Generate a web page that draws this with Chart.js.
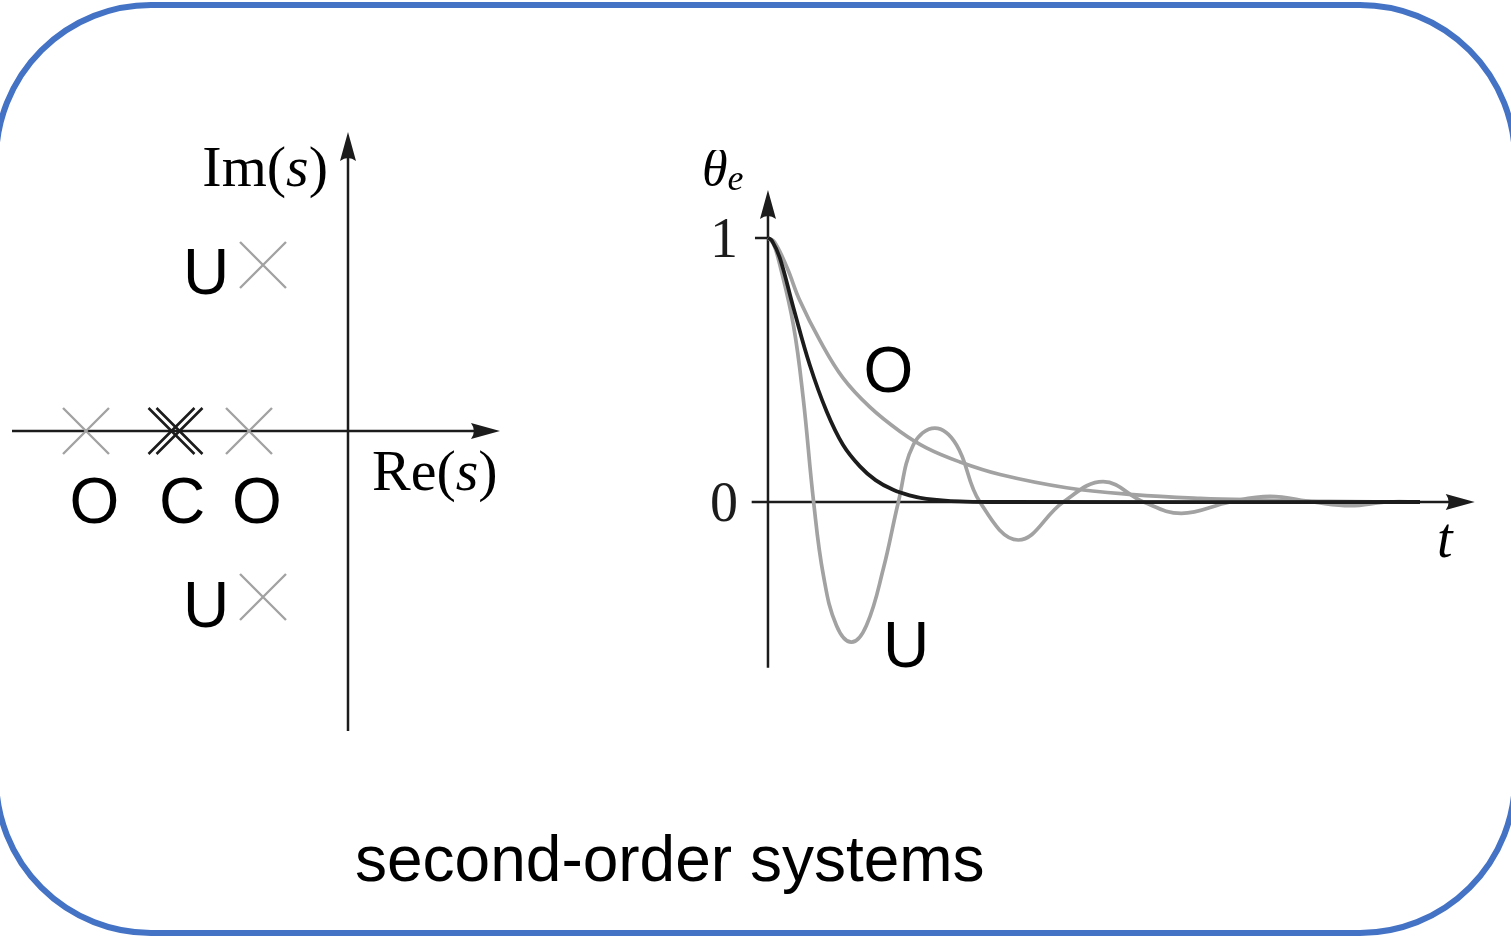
<!DOCTYPE html>
<html>
<head>
<meta charset="utf-8">
<title>second-order systems</title>
<script src="https://cdn.jsdelivr.net/npm/chart.js@4.4.1/dist/chart.umd.min.js"></script>
<style>
    html, body { margin: 0; padding: 0; background: #fff; }
    body { width: 1511px; height: 936px; position: relative; overflow: hidden; }
    .frame {
        position: absolute; left: -7px; top: 2px;
        width: 1525px; height: 934px;
        box-sizing: border-box;
        border: 6px solid #4472c4;
        border-radius: 158px;
    }
    #poleChart { position: absolute; left: 0; top: 100px; }
    #stepChart { position: absolute; left: 690px; top: 150px; }
    .caption {
        position: absolute; left: 355px; top: 828px;
        font: 64px "Liberation Sans", Arial, sans-serif;
        line-height: 63px; white-space: nowrap; color: #000;
    }
</style>
</head>
<body>
<div class="frame"></div>
<canvas id="poleChart" width="520" height="660"></canvas>
<canvas id="stepChart" width="821" height="550"></canvas>
<div class="caption">second-order systems</div>

<script>
// poles in the s-plane
const polesRe = [-2.62, -0.99, -0.85, -0.85];
const polesIm = [0, 0, 1.66, -1.66];
const polesLabel = ['O', 'O', 'U', 'U'];
const doublePoleRe = [-1.765, -1.685];
const doublePoleIm = [0, 0];

// error response theta_e(t) of each case
const criticalT = [0, 0.06, 0.18, 0.39, 0.64, 0.9, 1.15, 1.41, 1.65, 1.92, 2.17, 2.43, 2.94, 3.5, 10];
const criticalTheta = [1, 0.99, 0.926, 0.736, 0.52, 0.343, 0.217, 0.135, 0.083, 0.046, 0.025, 0.012, 0.002, 0, 0];

const overT = [0, 0.1, 0.29, 0.49, 0.8, 1.15, 1.56, 2.02, 2.43, 2.94, 3.56, 4.58, 5.6, 6.63, 7.65, 8.6, 10];
const overTheta = [1, 0.985, 0.889, 0.762, 0.61, 0.47, 0.36, 0.268, 0.205, 0.152, 0.104, 0.054, 0.028, 0.014, 0.007, 0.002, 0];

const underT = [0, 0.08, 0.18, 0.39, 0.54, 0.7, 0.85, 1.05, 1.28, 1.51, 1.77, 2.0, 2.23, 2.56, 2.89, 3.25,
    3.84, 4.53, 5.14, 5.76, 6.34, 7.09, 7.7, 8.36, 8.93, 9.5, 10];
const underTheta = [1, 0.98, 0.9, 0.67, 0.394, 0, -0.278, -0.468, -0.531, -0.468, -0.252, 0, 0.217, 0.28, 0.217, 0,
    -0.144, 0, 0.077, 0, -0.043, 0, 0.021, 0, -0.014, 0, 0];

const yTickValues = [0, 1];
const yTickLabels = ['0', '1'];

const SERIF = '"Liberation Serif", "Times New Roman", serif';
const SANS = '"Liberation Sans", Arial, sans-serif';
const INK = '#1c1c1c';
const GREY = '#a2a2a2';

function toPoints(xs, ys) {
    return xs.map((x, i) => ({ x: x, y: ys[i] }));
}

// draw a row of text pieces (mixed roman / italic) starting at x
function drawRuns(ctx, runs, x, y, align) {
    let total = 0;
    runs.forEach(r => { ctx.font = r.font; total += ctx.measureText(r.text).width; });
    let cx = align === 'right' ? x - total : (align === 'center' ? x - total / 2 : x);
    ctx.textAlign = 'left';
    ctx.textBaseline = 'alphabetic';
    runs.forEach(r => {
        ctx.font = r.font;
        ctx.fillText(r.text, cx, y + (r.dy || 0));
        cx += ctx.measureText(r.text).width;
    });
}

function arrowHead(ctx, tipX, tipY, dir, len, half) {
    ctx.beginPath();
    if (dir === 'right') {
        ctx.moveTo(tipX, tipY);
        ctx.lineTo(tipX - len, tipY - half);
        ctx.quadraticCurveTo(tipX - len * 0.8, tipY, tipX - len, tipY + half);
    } else {
        ctx.moveTo(tipX, tipY);
        ctx.lineTo(tipX - half, tipY + len);
        ctx.quadraticCurveTo(tipX, tipY + len * 0.8, tipX + half, tipY + len);
    }
    ctx.closePath();
    ctx.fill();
}

// axes with arrow heads, drawn under the datasets
const arrowAxes = {
    id: 'arrowAxes',
    beforeDatasetsDraw(chart, args, opts) {
        const { ctx, scales: { x, y } } = chart;
        const x0 = x.getPixelForValue(0);
        const y0 = y.getPixelForValue(0);
        const xa = x.getPixelForValue(opts.xFrom);
        const xb = x.getPixelForValue(opts.xTo);
        const ya = y.getPixelForValue(opts.yFrom);
        const yb = y.getPixelForValue(opts.yTo);
        ctx.save();
        ctx.strokeStyle = INK;
        ctx.fillStyle = INK;
        ctx.lineWidth = 2.5;
        ctx.beginPath();
        ctx.moveTo(xa, y0); ctx.lineTo(xb - 20, y0);
        ctx.moveTo(x0, ya); ctx.lineTo(x0, yb + 20);
        (opts.tickValues || []).forEach(v => {
            if (v === 0) return;
            const py = y.getPixelForValue(v);
            ctx.moveTo(x0 - 13, py); ctx.lineTo(x0, py);
        });
        ctx.stroke();
        arrowHead(ctx, xb, y0, 'right', 29, 8);
        arrowHead(ctx, x0, yb, 'up', 29, 8);

        // tick labels
        ctx.font = '56px ' + SERIF;
        ctx.textAlign = 'right';
        ctx.textBaseline = 'alphabetic';
        (opts.tickValues || []).forEach((v, i) => {
            ctx.fillText(opts.tickLabels[i], x0 - 30, y.getPixelForValue(v) + 19);
        });
        ctx.restore();
    },
    afterDatasetsDraw(chart, args, opts) {
        const { ctx, scales: { x, y } } = chart;
        ctx.save();
        ctx.fillStyle = '#000';
        (opts.labels || []).forEach(l => {
            drawRuns(ctx, l.runs, x.getPixelForValue(l.x), y.getPixelForValue(l.y), l.align);
        });
        ctx.restore();
    }
};

const letter = t => [{ text: t, font: '64px ' + SANS }];
const mathLabel = (a, b, c) => [
    { text: a, font: '58px ' + SERIF },
    { text: b, font: 'italic 58px ' + SERIF },
    { text: c, font: '58px ' + SERIF }
];

const hiddenScale = (min, max) => ({ type: 'linear', display: false, min: min, max: max });

// s-plane
new Chart(document.getElementById('poleChart'), {
    type: 'scatter',
    data: {
        datasets: [{
            data: toPoints(doublePoleRe, doublePoleIm),
            pointStyle: 'crossRot',
            pointRadius: 32.5,
            pointBorderWidth: 2.6,
            pointBorderColor: INK
        }, {
            data: toPoints(polesRe, polesIm),
            pointStyle: 'crossRot',
            pointRadius: 32.5,
            pointBorderWidth: 2.4,
            pointBorderColor: GREY
        }]
    },
    options: {
        responsive: false,
        animation: false,
        events: [],
        layout: { padding: 0, autoPadding: false },
        scales: {
            x: hiddenScale(-3.48, 1.72),
            y: hiddenScale(-3.29, 3.31)
        },
        plugins: {
            legend: { display: false },
            tooltip: { enabled: false },
            arrowAxes: {
                xFrom: -3.36, xTo: 1.52, yFrom: -3.0, yTo: 2.99,
                labels: [
                    { runs: letter(polesLabel[2]), x: -1.42, y: 1.37, align: 'center' },
                    { runs: letter(polesLabel[3]), x: -1.42, y: -1.96, align: 'center' },
                    { runs: letter(polesLabel[0]), x: -2.535, y: -0.92, align: 'center' },
                    { runs: letter('C'), x: -1.66, y: -0.92, align: 'center' },
                    { runs: letter(polesLabel[1]), x: -0.91, y: -0.92, align: 'center' },
                    { runs: mathLabel('Im(', 's', ')'), x: -0.2, y: 2.45, align: 'right' },
                    { runs: mathLabel('Re(', 's', ')'), x: 0.24, y: -0.59, align: 'left' }
                ]
            }
        }
    },
    plugins: [arrowAxes]
});

// time response
const curve = (xs, ys, color, width) => ({
    data: toPoints(xs, ys),
    showLine: true,
    borderColor: color,
    borderWidth: width,
    pointRadius: 0,
    tension: 0.4,
    fill: false
});

new Chart(document.getElementById('stepChart'), {
    type: 'scatter',
    data: {
        datasets: [
            curve(criticalT, criticalTheta, INK, 3.8),
            curve(overT, overTheta, GREY, 3.7),
            curve(underT, underTheta, GREY, 3.7)
        ]
    },
    options: {
        responsive: false,
        animation: false,
        events: [],
        layout: { padding: 0, autoPadding: false },
        scales: {
            x: hiddenScale(-1.196, 11.396),
            y: hiddenScale(-0.75, 1.3333)
        },
        plugins: {
            legend: { display: false },
            tooltip: { enabled: false },
            arrowAxes: {
                xFrom: -0.25, xTo: 10.84, yFrom: -0.628, yTo: 1.182,
                tickValues: yTickValues,
                tickLabels: yTickLabels,
                labels: [
                    { runs: letter('O'), x: 1.848, y: 0.4167, align: 'center' },
                    { runs: letter('U'), x: 2.117, y: -0.625, align: 'center' },
                    { runs: [
                        { text: 'θ', font: 'italic 52px ' + SERIF },
                        { text: 'e', font: 'italic 36px ' + SERIF, dy: 5 }
                    ], x: -1.012, y: 1.2008, align: 'left' },
                    { runs: [{ text: 't', font: 'italic 56px ' + SERIF }], x: 10.38, y: -0.208, align: 'center' }
                ]
            }
        }
    },
    plugins: [arrowAxes]
});
</script>
</body>
</html>
